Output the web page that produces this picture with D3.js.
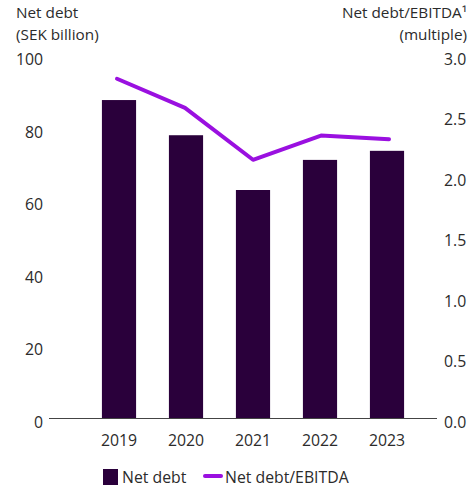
<!DOCTYPE html>
<html>
<head>
<meta charset="utf-8">
<script src="https://cdn.jsdelivr.net/npm/d3@7"></script>
<style>
  html, body { margin: 0; padding: 0; background: #fff; }
  svg { display: block; font-family: "Open Sans", sans-serif; }
</style>
</head>
<body>
<svg id="chart" width="468" height="489"></svg>
<script>
const years = ["2019", "2020", "2021", "2022", "2023"];
const netDebt = [87.8, 78.1, 63.0, 71.3, 73.8];
const netDebtEbitda = [2.81, 2.57, 2.14, 2.34, 2.31];
const leftTicks = [0, 20, 40, 60, 80, 100];
const rightTicks = [0.0, 0.5, 1.0, 1.5, 2.0, 2.5, 3.0];

const barColor = "#2a003b";
const lineColor = "#9a10e0";
const textColor = "#2b2b2b";
const fs = "15.8px";

const svg = d3.select("#chart");
const y0 = 418.5, y1 = 55.8;

const x = d3.scaleBand().domain(years).range([85.5, 420.5])
  .paddingInner(0.49).paddingOuter(0.245);
const xLine = d3.scalePoint().domain(years).range([117, 389]);
const yL = d3.scaleLinear().domain([0, 100]).range([y0, y1]);
const yR = d3.scaleLinear().domain([0, 3]).range([y0, y1]);

// Axis titles
const tt = svg.append("g").attr("fill", textColor).style("font-size", "15.3px");
tt.append("text").attr("x", 16).attr("y", 18).text("Net debt");
tt.append("text").attr("x", 16).attr("y", 39.5).text("(SEK billion)");
tt.append("text").attr("x", 467).attr("y", 18).attr("text-anchor", "end").text("Net debt/EBITDA¹");
tt.append("text").attr("x", 467).attr("y", 39.5).attr("text-anchor", "end").text("(multiple)");

// Left axis
const la = svg.append("g").attr("transform", "translate(43,0)")
  .call(d3.axisLeft(yL).tickValues(leftTicks).tickSize(0).tickPadding(0).tickFormat(d3.format("d")));
la.select(".domain").remove();
la.selectAll("text").attr("fill", textColor).style("font-size", fs)
  .attr("font-family", "Open Sans, sans-serif").attr("dy", "0.55em");

// Right axis
const ra = svg.append("g").attr("transform", "translate(444,0)")
  .call(d3.axisRight(yR).tickValues(rightTicks).tickSize(0).tickPadding(0).tickFormat(d3.format(".1f")));
ra.select(".domain").remove();
ra.selectAll("text").attr("fill", textColor).style("font-size", fs)
  .attr("font-family", "Open Sans, sans-serif").attr("dy", "0.55em");

// Bars
svg.append("g").selectAll("rect").data(years).join("rect")
  .attr("x", d => x(d))
  .attr("width", x.bandwidth())
  .attr("y", (d, i) => yL(netDebt[i]))
  .attr("height", (d, i) => y0 - yL(netDebt[i]))
  .attr("fill", barColor);

// Baseline
svg.append("line").attr("x1", 49).attr("x2", 437).attr("y1", y0).attr("y2", y0)
  .attr("stroke", "#444").attr("stroke-width", 1);

// X axis labels
const xa = svg.append("g").attr("transform", `translate(0,${y0})`)
  .call(d3.axisBottom(x).tickSize(0).tickPadding(16));
xa.select(".domain").remove();
xa.selectAll("text").attr("fill", textColor).style("font-size", fs)
  .attr("font-family", "Open Sans, sans-serif");

// Line
const line = d3.line().x(d => xLine(d.year)).y(d => yR(d.v));
svg.append("path")
  .datum(years.map((yr, i) => ({ year: yr, v: netDebtEbitda[i] })))
  .attr("d", line)
  .attr("fill", "none")
  .attr("stroke", lineColor)
  .attr("stroke-width", 4)
  .attr("stroke-linecap", "round")
  .attr("stroke-linejoin", "round");

// Legend
const lg = svg.append("g").style("font-size", fs).attr("fill", textColor);
lg.append("rect").attr("x", 103).attr("y", 469).attr("width", 15).attr("height", 16).attr("fill", barColor);
lg.append("text").attr("x", 122).attr("y", 483).text("Net debt");
lg.append("line").attr("x1", 205).attr("x2", 221).attr("y1", 476).attr("y2", 476)
  .attr("stroke", lineColor).attr("stroke-width", 4).attr("stroke-linecap", "round");
lg.append("text").attr("x", 225).attr("y", 483).text("Net debt/EBITDA");
</script>
</body>
</html>
